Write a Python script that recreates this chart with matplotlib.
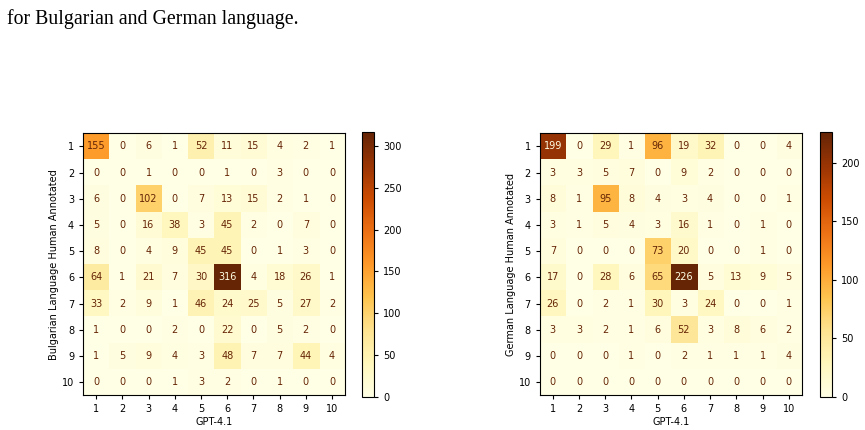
import numpy as np
import matplotlib
matplotlib.use("Agg")
import matplotlib.pyplot as plt

labels = [str(i) for i in range(1, 11)]

bg_matrix = [
    [155, 0, 6, 1, 52, 11, 15, 4, 2, 1],
    [0, 0, 1, 0, 0, 1, 0, 3, 0, 0],
    [6, 0, 102, 0, 7, 13, 15, 2, 1, 0],
    [5, 0, 16, 38, 3, 45, 2, 0, 7, 0],
    [8, 0, 4, 9, 45, 45, 0, 1, 3, 0],
    [64, 1, 21, 7, 30, 316, 4, 18, 26, 1],
    [33, 2, 9, 1, 46, 24, 25, 5, 27, 2],
    [1, 0, 0, 2, 0, 22, 0, 5, 2, 0],
    [1, 5, 9, 4, 3, 48, 7, 7, 44, 4],
    [0, 0, 0, 1, 3, 2, 0, 1, 0, 0],
]

de_matrix = [
    [199, 0, 29, 1, 96, 19, 32, 0, 0, 4],
    [3, 3, 5, 7, 0, 9, 2, 0, 0, 0],
    [8, 1, 95, 8, 4, 3, 4, 0, 0, 1],
    [3, 1, 5, 4, 3, 16, 1, 0, 1, 0],
    [7, 0, 0, 0, 73, 20, 0, 0, 1, 0],
    [17, 0, 28, 6, 65, 226, 5, 13, 9, 5],
    [26, 0, 2, 1, 30, 3, 24, 0, 0, 1],
    [3, 3, 2, 1, 6, 52, 3, 8, 6, 2],
    [0, 0, 0, 1, 0, 2, 1, 1, 1, 4],
    [0, 0, 0, 0, 0, 0, 0, 0, 0, 0],
]

panels = [
    ("Bulgarian Language Human Annotated", bg_matrix, [0.096, 0.081, 0.303, 0.609], [0.4185, 0.077, 0.014, 0.615]),
    ("German Language Human Annotated", de_matrix, [0.624, 0.081, 0.303, 0.609], [0.948, 0.077, 0.014, 0.615]),
]


def draw(fig, ylabel, data, ax_rect, cb_rect):
    cm = np.array(data)
    cmap = plt.get_cmap("YlOrBr")
    ax = fig.add_axes(ax_rect)
    im = ax.imshow(cm, cmap=cmap, interpolation="nearest", aspect="auto")
    thresh = (cm.max() + cm.min()) / 2.0
    for i in range(cm.shape[0]):
        for j in range(cm.shape[1]):
            color = cmap(0) if cm[i, j] > thresh else cmap(256)
            ax.text(j, i, str(cm[i, j]), ha="center", va="center", color=color, fontsize=7)
    ax.set_xticks(range(len(labels)))
    ax.set_xticklabels(labels)
    ax.set_yticks(range(len(labels)))
    ax.set_yticklabels(labels)
    ax.tick_params(labelsize=7, length=3)
    ax.set_xlabel("GPT-4.1", fontsize=7, labelpad=2)
    ax.set_ylabel(ylabel, fontsize=7, labelpad=2)
    cax = fig.add_axes(cb_rect)
    cb = fig.colorbar(im, cax=cax)
    cb.ax.tick_params(labelsize=7, length=3)
    cb.outline.set_linewidth(0.8)


def main():
    fig = plt.figure(figsize=(8.65, 4.30), dpi=100)
    fig.text(0.008, 0.955, "for Bulgarian and German language.", fontsize=14.3,
             family="Liberation Serif", ha="left", va="center")
    for ylabel, data, ax_rect, cb_rect in panels:
        draw(fig, ylabel, data, ax_rect, cb_rect)
    fig.savefig("out.png", dpi=100)


if __name__ == "__main__":
    main()
